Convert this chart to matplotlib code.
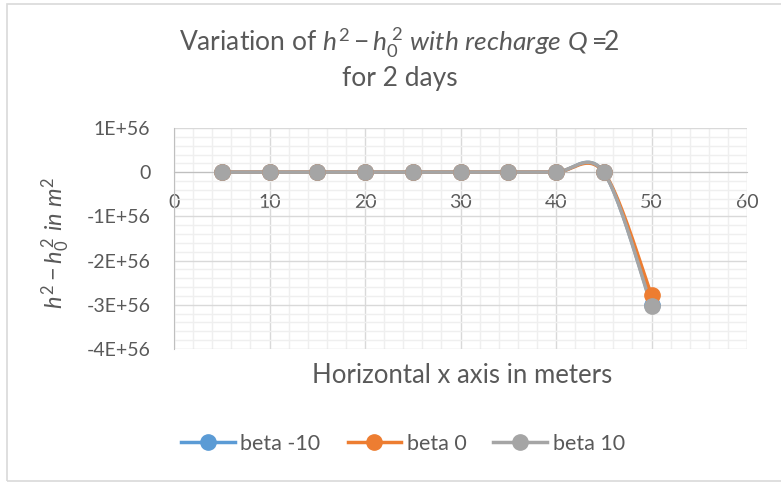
import matplotlib.pyplot as plt
import numpy as np
from matplotlib.patches import Rectangle
from matplotlib.ticker import MultipleLocator, FuncFormatter

plt.rcParams.update({
    "font.family": ["Lato", "DejaVu Sans"],
    "mathtext.fontset": "custom",
    "mathtext.rm": "Lato",
    "mathtext.it": "Lato:italic",
    "mathtext.bf": "Lato:bold",
})

# data (values in units of 1E+56)
x = [5, 10, 15, 20, 25, 30, 35, 40, 45, 50]
series_names = ["beta -10", "beta 0", "beta 10"]
beta_m10 = [0, 0, 0, 0, 0, 0, 0, 0, 0, -3.00]
beta_0 = [0, 0, 0, 0, 0, 0, 0, 0, 0, -2.78]
beta_10 = [0, 0, 0, 0, 0, 0, 0, 0, 0, -3.03]
colors = ["#5b9bd5", "#ed7d31", "#a5a5a5"]
scale = 1e56
W, H = 781, 483


def excel_smooth(xs, ys, n=40):
    # Bezier smoothing like Excel's "smoothed line"
    p = np.column_stack([xs, ys]).astype(float)
    out = [p[:1]]
    t = np.linspace(0, 1, n)[1:, None]
    for i in range(len(p) - 1):
        prev = p[i - 1] if i > 0 else p[i]
        nxt = p[i + 2] if i + 2 < len(p) else p[i + 1]
        c1 = p[i] + (p[i + 1] - prev) / 6
        c2 = p[i + 1] - (nxt - p[i]) / 6
        seg = ((1 - t) ** 3 * p[i] + 3 * (1 - t) ** 2 * t * c1
               + 3 * (1 - t) * t ** 2 * c2 + t ** 3 * p[i + 1])
        out.append(seg)
    c = np.vstack(out)
    return c[:, 0], c[:, 1]


fig = plt.figure(figsize=(W / 100, H / 100), dpi=100)
ax = fig.add_axes([174 / W, 1 - 349 / H, (747 - 174) / W, (349 - 128) / H])

for name, ys, col in zip(series_names, [beta_m10, beta_0, beta_10], colors):
    ys = np.array(ys) * scale
    sx, sy = excel_smooth(x, ys)
    ax.plot(sx, sy, color=col, lw=2.5, solid_capstyle="round", zorder=3)
    ax.plot(x, ys, "o", color=col, ms=11, zorder=4)
    ax.plot([], [], "-o", color=col, lw=2.5, ms=11, label=name)

ax.set_xlim(0, 60)
ax.set_ylim(-4 * scale, 1 * scale)
ax.xaxis.set_major_locator(MultipleLocator(10))
ax.xaxis.set_minor_locator(MultipleLocator(2))
ax.yaxis.set_major_locator(MultipleLocator(scale))
ax.yaxis.set_minor_locator(MultipleLocator(0.2 * scale))
ax.yaxis.set_major_formatter(FuncFormatter(
    lambda v, p: "0" if abs(v) < 1 else f"{v / scale:.0f}E+56"))
ax.grid(which="major", color="#d9d9d9", lw=1.0, zorder=0)
ax.grid(which="minor", color="#efefef", lw=1.0, zorder=0)
ax.set_axisbelow(True)

for s in ["top", "right"]:
    ax.spines[s].set_visible(False)
ax.spines["left"].set_color("#bfbfbf")
ax.spines["bottom"].set_color("#bfbfbf")
ax.spines["bottom"].set_position(("data", 0))
ax.tick_params(which="both", length=0, colors="#595959", labelsize=14)
ax.tick_params(axis="x", pad=16)
ax.tick_params(axis="y", pad=17)

txt = "#595959"
fig.text(399 / W, 1 - 52 / H,
         r"Variation of $\mathit{h^2} - \mathit{h_0^{\,2}}\ \mathit{with\ recharge\ Q}=\!\!\mathit{2}$",
         ha="center", va="baseline", fontsize=19, color=txt)
fig.text(400 / W, 1 - 86 / H, "for 2 days", ha="center", va="baseline",
         fontsize=19, color=txt)
fig.text(56 / W, 1 - 243 / H,
         r"$\mathit{h^2} - \mathit{h_0^{\,2}\ in\ m^2}$",
         rotation=90, ha="center", va="center", fontsize=17, color=txt)
fig.text(462 / W, 1 - 383 / H, "Horizontal x axis in meters",
         ha="center", va="baseline", fontsize=18.5, color=txt)

fig.legend(loc="center", bbox_to_anchor=(403 / W, 1 - 444 / H), ncol=3,
           frameon=False, fontsize=15.5, labelcolor=txt,
           handlelength=2.5, handletextpad=0.25, columnspacing=1.25)

fig.patches.append(Rectangle((6.5 / W, 1 - 481 / H), 2, 477 / H,
                             transform=fig.transFigure, fill=False,
                             ec="#d9d9d9", lw=1.2))

fig.savefig("out.png", dpi=100)
